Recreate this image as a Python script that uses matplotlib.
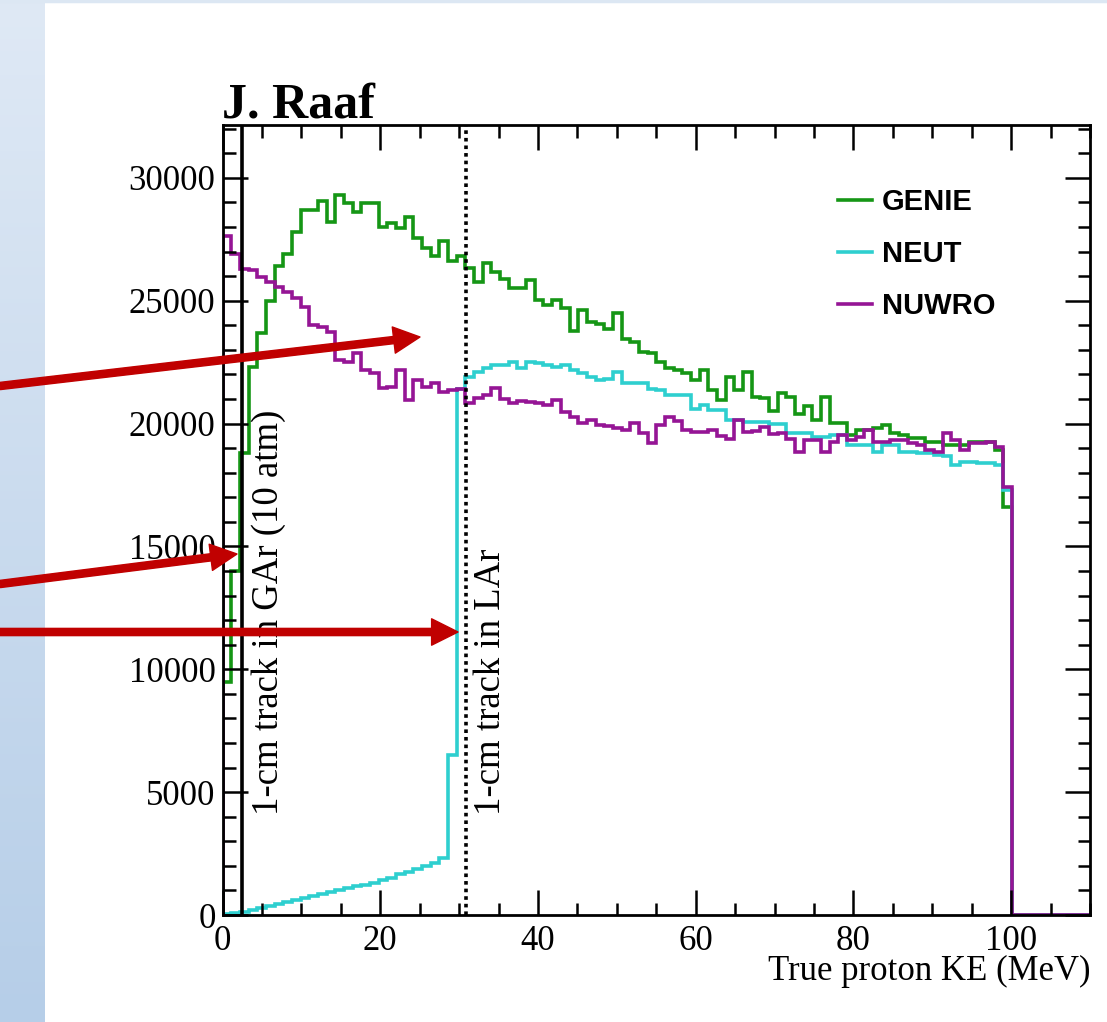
import numpy as np
import matplotlib
matplotlib.use("Agg")
import matplotlib.pyplot as plt
from matplotlib.patches import FancyArrowPatch, ArrowStyle
from matplotlib.ticker import MultipleLocator
from matplotlib.colors import LinearSegmentedColormap

plt.rcParams['font.family'] = ['Liberation Serif', 'DejaVu Serif']

# ---------------- data (100 bins of 1.1 MeV from 0 to 110 MeV) ----------------
bin_edges = np.linspace(0, 110, 101)

genie = [9500, 14000, 18800, 22300, 23700, 25000, 26400, 26900, 27800, 28700,
         28700, 29050, 28200, 29300, 28970, 28620, 28970, 28970, 27980, 28180,
         27950, 28420, 27540, 27130, 26830, 27440, 26630, 26800, 26320, 25750,
         26520, 26180, 25900, 25500, 25500, 25840, 25030, 24830, 25030, 24690,
         23780, 24620, 24120, 24050, 23840, 24490, 23450, 23300, 22930, 22860,
         22520, 22250, 22180, 22050, 21770, 22180, 21370, 20960, 21910, 21370,
         22110, 21100, 21030, 20500, 21230, 21100, 20400, 20720, 20150, 21100,
         20010, 20010, 19540, 19740, 19740, 19800, 19940, 19600, 19540, 19400,
         19400, 19265, 19265, 19130, 19130, 19130, 19265, 19265, 19265, 18930,
         16600]

neut = [50, 80, 130, 200, 290, 370, 450, 530, 610, 690,
        760, 840, 920, 1000, 1080, 1160, 1230, 1300, 1420, 1500,
        1650, 1750, 1880, 2000, 2120, 2320, 6500, 21400, 21900, 22100,
        22250, 22380, 22380, 22520, 22250, 22520, 22450, 22380, 22300, 22380,
        22180, 22050, 21910, 21770, 21800, 22100, 21650, 21650, 21650, 21400,
        21350, 21150, 21150, 21150, 20600, 20760, 20570, 20570, 20150, 20150,
        20050, 20050, 20050, 19980, 19980, 19600, 19600, 19600, 19470, 19470,
        19550, 19550, 19130, 19130, 19130, 18860, 19130, 19130, 18860, 18860,
        18800, 18800, 18700, 18660, 18320, 18450, 18450, 18400, 18400, 18320,
        17300]

nuwro = [27650, 26900, 26300, 26250, 25980, 25780, 25570, 25370, 25100, 24760,
         24010, 23945, 23715, 22590, 22520, 22860, 22180, 22045, 21435, 21505,
         22180, 20960, 21775, 21505, 21640, 21300, 21370, 21400, 20825, 21030,
         21160, 21435, 21000, 20820, 20920, 20860, 20820, 20760, 20960, 20485,
         20250, 20010, 20150, 19940, 19900, 19800, 19740, 20010, 19600, 19200,
         19940, 20280, 20110, 19740, 19670, 19670, 19740, 19500, 19370, 20150,
         19640, 19700, 19840, 19570, 19600, 19370, 18860, 19335, 19335, 18860,
         19265, 19535, 19335, 19470, 19740, 19265, 19265, 19335, 19335, 19200,
         19130, 18930, 18860, 19600, 19335, 18930, 19200, 19200, 19265, 19060,
         17430]

labels = ['GENIE', 'NEUT', 'NUWRO']
colors = ['#159615', '#2ecfcf', '#951595']

n_bins = len(bin_edges) - 1
def pad(v):
    return np.array(v + [0] * (n_bins - len(v)), dtype=float)

series = [pad(genie), pad(neut), pad(nuwro)]

x_ticks = [0, 20, 40, 60, 80, 100]
y_ticks = [0, 5000, 10000, 15000, 20000, 25000, 30000]
gar_line = 2.45
lar_line = 30.9

# ---------------- figure ----------------
W, H = 1107, 1022
fig = plt.figure(figsize=(W / 100, H / 100), dpi=100)

# left light-blue strip
bg = fig.add_axes([0, 0, 45 / W, 1])
grad = np.linspace(0, 1, 256).reshape(-1, 1)
cmap = LinearSegmentedColormap.from_list('strip', ['#b6cee8', '#dfe9f5'])
bg.imshow(grad, aspect='auto', cmap=cmap, origin='lower', extent=[0, 1, 0, 1])
bg.axis('off')
fig.add_artist(plt.Line2D([0, 1], [1 - 1.5 / H] * 2, color='#dce7f3', lw=2.5,
                          transform=fig.transFigure))

ax = fig.add_axes([222.5 / W, (H - 915) / H, (1090 - 222.5) / W, (915 - 125) / H])

lw = 2.6
for vals, lab, col in zip(series, labels, colors):
    ax.stairs(vals, bin_edges, baseline=0, fill=False, color=col, lw=lw, label=lab)

ax.axvline(gar_line, color='black', lw=2.6)
ax.axvline(lar_line, color='black', lw=2.6, linestyle=(0, (1.0, 1.1)))

ax.set_xlim(0, 110)
ax.set_ylim(0, 32150)
ax.set_xticks(x_ticks)
ax.set_yticks(y_ticks)
ax.xaxis.set_minor_locator(MultipleLocator(5))
ax.yaxis.set_minor_locator(MultipleLocator(1000))
ax.tick_params(which='both', direction='in', top=True, right=True, width=1.8,
               labelsize=25)
ax.tick_params(which='major', length=18)
ax.tick_params(which='minor', length=9)
ax.tick_params(axis='x', pad=7)
ax.tick_params(axis='y', pad=5)
for s in ax.spines.values():
    s.set_linewidth(2.0)

ax.set_xlabel('True proton KE (MeV)', fontsize=25, ha='right', va='center')
ax.xaxis.set_label_coords(1.0, -0.071)

fig.text(222 / W, 1 - 117 / H, 'J. Raaf', fontsize=36, fontweight='bold',
         ha='left', va='baseline')

ax.text(5.8, 4070, '1-cm track in GAr (10 atm)', rotation=90, ha='center',
        va='bottom', fontsize=26.5)
ax.text(34.0, 4070, '1-cm track in LAr', rotation=90, ha='center',
        va='bottom', fontsize=26.5)

ax.legend(frameon=False, loc='upper left',
          bbox_to_anchor=((838 - 222.5) / 867.5, (915 - 188) / 790),
          prop={'family': 'Liberation Sans', 'weight': 'bold', 'size': 21},
          handlelength=1.17, handletextpad=0.34, labelspacing=0.82,
          borderpad=0, borderaxespad=0)

# red annotation arrows (figure pixel positions)
def fpos(x, y):
    return (x / W, 1 - y / H)

style = ArrowStyle.Simple(head_length=19, head_width=19, tail_width=5.2)
for start, end in [((0, 386), (420, 337)), ((0, 584), (237, 554)), ((0, 632), (458, 632))]:
    arr = FancyArrowPatch(fpos(*start), fpos(*end), transform=fig.transFigure,
                          arrowstyle=style, mutation_scale=1, color='#c00000',
                          shrinkA=0, shrinkB=0, zorder=10)
    fig.add_artist(arr)

fig.savefig('out.png', dpi=100)
